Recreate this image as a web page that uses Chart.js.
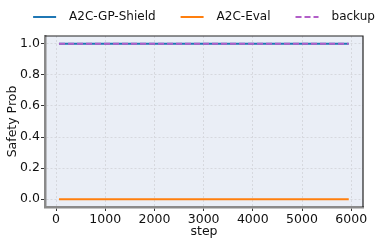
<!DOCTYPE html>
<html>
<head>
<meta charset="utf-8">
<script src="https://cdn.jsdelivr.net/npm/chart.js@4/dist/chart.umd.min.js"></script>
<style>
  html, body { margin: 0; padding: 0; background: #fff; }
  #wrap { width: 389px; height: 245px; }
</style>
</head>
<body>
<div id="wrap"><canvas id="safetyChart" width="389" height="245"></canvas></div>
<script>
// values
const steps = [60, 1000, 2000, 3000, 4000, 5000, 5950];
const shieldProb = [1.0, 1.0, 1.0, 1.0, 1.0, 1.0, 1.0];
const evalProb = [0.0, 0.0, 0.0, 0.0, 0.0, 0.0, 0.0];
const backupProb = [1.0, 1.0, 1.0, 1.0, 1.0, 1.0, 1.0];
const xTicks = [0, 1000, 2000, 3000, 4000, 5000, 6000];
const yTicks = [0.0, 0.2, 0.4, 0.6, 0.8, 1.0];

const font = "'DejaVu Sans', sans-serif";
Chart.defaults.font.family = font;
Chart.defaults.color = '#111';

function points(ys) {
    return steps.map((s, i) => ({ x: s, y: ys[i] }));
}

// axes background + black top/right frame like matplotlib
const frame = {
    id: 'frame',
    beforeDraw(chart) {
        const { ctx, chartArea: a } = chart;
        ctx.save();
        ctx.fillStyle = '#eaeef6';
        ctx.fillRect(a.left, a.top, a.right - a.left, a.bottom - a.top);
        ctx.restore();
    },
    afterDraw(chart) {
        const { ctx, chartArea: a } = chart;
        ctx.save();
        ctx.strokeStyle = '#222';
        ctx.lineWidth = 1.2;
        ctx.beginPath();
        ctx.moveTo(a.left, a.top);
        ctx.lineTo(a.right, a.top);
        ctx.lineTo(a.right, a.bottom);
        ctx.stroke();
        ctx.restore();
    }
};

// matplotlib-style legend row above the axes (line sample, gap, label)
const topLegend = {
    id: 'topLegend',
    afterDraw(chart) {
        const { ctx, chartArea: a } = chart;
        const sample = 23, gap = 13, between = 25, y = 17;
        ctx.save();
        ctx.font = '12px ' + font;
        ctx.textBaseline = 'middle';
        const sets = chart.data.datasets;
        const widths = sets.map(d => ctx.measureText(d.label).width);
        const total = widths.reduce((s, w) => s + w + sample + gap, 0) + between * (sets.length - 1);
        let x = (a.left + a.right) / 2 - total / 2;
        sets.forEach((d, i) => {
            ctx.strokeStyle = d.borderColor;
            ctx.lineWidth = d.borderWidth;
            ctx.setLineDash(d.borderDash || []);
            ctx.beginPath();
            ctx.moveTo(x, y);
            ctx.lineTo(x + sample, y);
            ctx.stroke();
            ctx.setLineDash([]);
            ctx.fillStyle = '#111';
            ctx.fillText(d.label, x + sample + gap, y);
            x += sample + gap + widths[i] + between;
        });
        ctx.restore();
    }
};

new Chart(document.getElementById('safetyChart'), {
    type: 'line',
    data: {
        datasets: [{
            label: 'A2C-GP-Shield',
            data: points(shieldProb),
            borderColor: '#1f77b4',
            backgroundColor: '#1f77b4',
            borderWidth: 2,
            pointRadius: 0,
            order: 3,
            fill: false
        }, {
            label: 'A2C-Eval',
            data: points(evalProb),
            borderColor: '#ff7f0e',
            backgroundColor: '#ff7f0e',
            borderWidth: 2,
            pointRadius: 0,
            order: 2,
            fill: false
        }, {
            label: 'backup',
            data: points(backupProb),
            borderColor: '#b25ec8',
            backgroundColor: '#b25ec8',
            borderWidth: 2,
            borderDash: [6, 3],
            pointRadius: 0,
            order: 1,
            fill: false
        }]
    },
    options: {
        responsive: false,
        animation: false,
        layout: { padding: { left: 0, right: 26, top: 36, bottom: 0 } },
        plugins: {
            legend: { display: false },
            tooltip: { enabled: false }
        },
        scales: {
            x: {
                type: 'linear',
                min: -225,
                max: 6240,
                afterBuildTicks: s => { s.ticks = xTicks.map(v => ({ value: v })); },
                afterFit: s => { s.height = 38; },
                ticks: {
                    color: '#111',
                    font: { size: 12.5 },
                    padding: 1,
                    maxRotation: 0,
                    callback: v => String(v)
                },
                title: {
                    display: true,
                    text: 'step',
                    color: '#111',
                    font: { size: 12.5 },
                    padding: { top: 0, bottom: 6 }
                },
                grid: {
                    color: '#d6d8de',
                    tickColor: '#333',
                    tickLength: 4,
                    tickBorderDash: []
                },
                border: { color: '#8a8a8a', width: 2.5, dash: [2, 2] }
            },
            y: {
                type: 'linear',
                min: -0.05,
                max: 1.05,
                afterBuildTicks: s => { s.ticks = yTicks.map(v => ({ value: v })); },
                afterFit: s => { s.width = 45; },
                ticks: {
                    color: '#111',
                    font: { size: 12.5 },
                    padding: 1,
                    callback: v => v.toFixed(1)
                },
                title: {
                    display: true,
                    text: 'Safety Prob',
                    color: '#111',
                    font: { size: 12.5 },
                    padding: { top: 5, bottom: 0 }
                },
                grid: {
                    color: '#d6d8de',
                    tickColor: '#333',
                    tickLength: 4,
                    tickBorderDash: []
                },
                border: { color: '#8a8a8a', width: 2.5, dash: [2, 2] }
            }
        }
    },
    plugins: [frame, topLegend]
});
</script>
</body>
</html>
